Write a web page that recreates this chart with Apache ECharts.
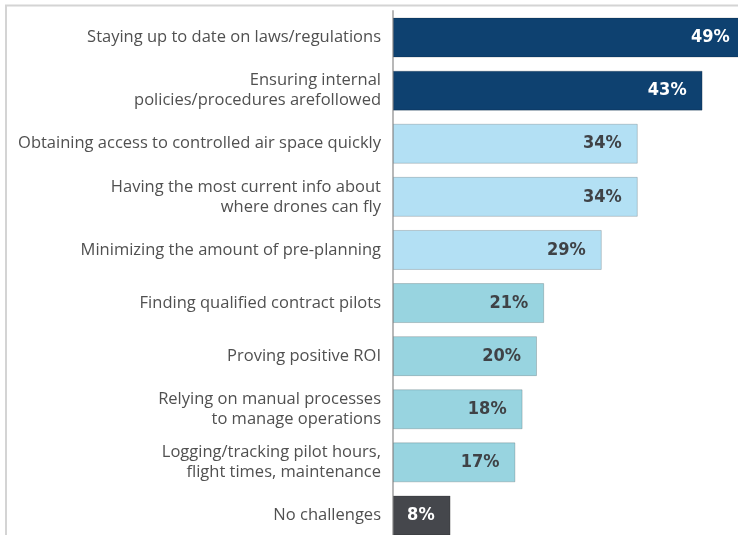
<!DOCTYPE html>
<html>
<head>
<meta charset="utf-8">
<style>
  html, body { margin: 0; padding: 0; background: #fff; }
  #chart { width: 738px; height: 535px; }
</style>
<script src="https://cdn.jsdelivr.net/npm/echarts@6/dist/echarts.min.js"></script>
</head>
<body>
<div id="chart"></div>
<script>
'use strict';
const categories = [
  'Staying up to date on laws/regulations',
  'Ensuring internal\npolicies/procedures arefollowed',
  'Obtaining access to controlled air space quickly',
  'Having the most current info about\nwhere drones can fly',
  'Minimizing the amount of pre-planning',
  'Finding qualified contract pilots',
  'Proving positive ROI',
  'Relying on manual processes\nto manage operations',
  'Logging/tracking pilot hours,\nflight times, maintenance',
  'No challenges'
];
const values = [49, 43, 34, 34, 29, 21, 20, 18, 17, 8];
const barColors = ['#0e4170', '#0e4170', '#b3e0f4', '#b3e0f4', '#b3e0f4',
  '#98d4e0', '#98d4e0', '#98d4e0', '#98d4e0', '#45474c'];
const labelColors = ['#ffffff', '#ffffff', '#3f4246', '#3f4246', '#3f4246',
  '#3f4246', '#3f4246', '#3f4246', '#3f4246', '#ffffff'];

const chart = echarts.init(document.getElementById('chart'));

chart.setOption({
  animation: false,
  graphic: [{
    type: 'polyline',
    shape: {points: [[6, 535], [6, 5.5], [738, 5.5]]},
    style: {stroke: '#d4d4d4', lineWidth: 2, fill: null},
    silent: true
  }],
  grid: {left: 393, top: 11, width: 360, height: 531, outerBoundsMode: 'none'},
  xAxis: {
    type: 'value',
    min: 0,
    max: 50,
    show: false
  },
  yAxis: {
    type: 'category',
    inverse: true,
    data: categories,
    axisLine: {show: true, lineStyle: {color: '#b8b8b8', width: 2}},
    axisTick: {show: false},
    axisLabel: {
      margin: 12,
      color: '#505050',
      fontFamily: '"Open Sans", "Noto Sans", sans-serif',
      fontSize: 16.5,
      lineHeight: 20
    }
  },
  series: [{
    type: 'bar',
    data: values.map((v, i) => ({
      value: v,
      itemStyle: {color: barColors[i]},
      label: {color: labelColors[i]}
    })),
    barWidth: 40,
    itemStyle: {borderColor: 'rgba(0,0,0,0.18)', borderWidth: 1},
    label: {
      show: true,
      position: 'insideRight',
      distance: 16,
      formatter: '{c}%',
      fontFamily: '"DejaVu Sans Condensed", Roboto, sans-serif',
      fontWeight: 'bold',
      fontSize: 18
    }
  }]
});
</script>
</body>
</html>
